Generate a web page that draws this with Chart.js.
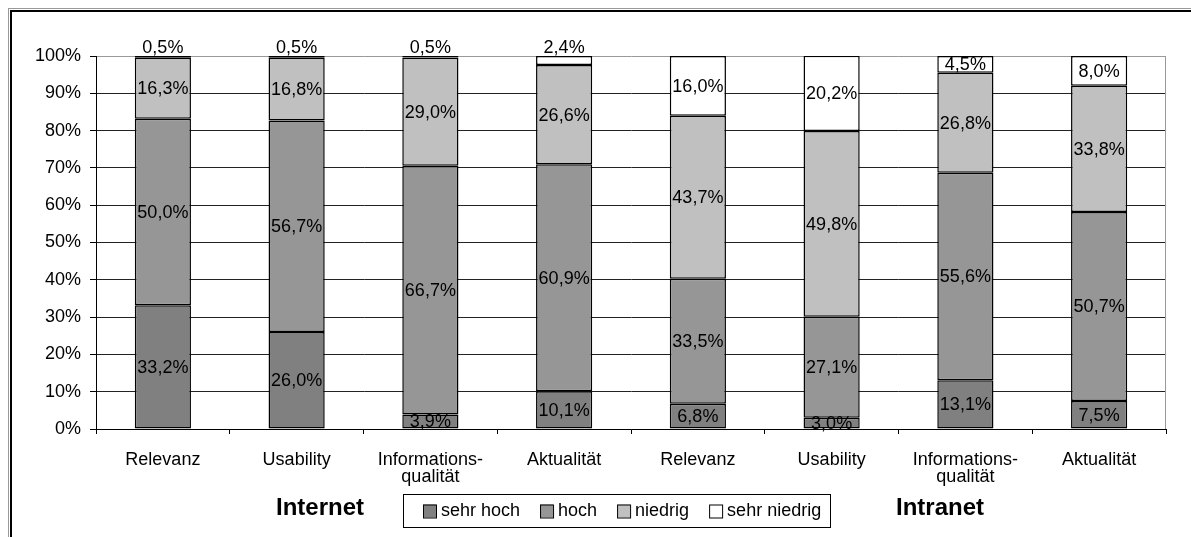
<!DOCTYPE html>
<html>
<head>
<meta charset="utf-8">
<script src="https://cdn.jsdelivr.net/npm/chart.js@4.4.1/dist/chart.umd.min.js"></script>
<style>
  html, body { margin: 0; padding: 0; background: #fff; }
</style>
</head>
<body>
<canvas id="barChart" width="1191" height="537"></canvas>
<script>
// categories (Internet: first four, Intranet: last four)
const categories = ['Relevanz', 'Usability', ['Informations-', 'qualität'], 'Aktualität',
                    'Relevanz', 'Usability', ['Informations-', 'qualität'], 'Aktualität'];
const seriesNames = ['sehr hoch', 'hoch', 'niedrig', 'sehr niedrig'];
const sehrHoch    = [33.2, 26.0, 3.9, 10.1, 6.8, 3.0, 13.1, 7.5];
const hoch        = [50.0, 56.7, 66.7, 60.9, 33.5, 27.1, 55.6, 50.7];
const niedrig     = [16.3, 16.8, 29.0, 26.6, 43.7, 49.8, 26.8, 33.8];
const sehrNiedrig = [0.5, 0.5, 0.5, 2.4, 16.0, 20.2, 4.5, 8.0];
const groupTitles = ['Internet', 'Intranet'];
const yMax = 100;
const yStep = 10;

const colors = ['#808080', '#969696', '#c0c0c0', '#ffffff'];
const FONT = 'Liberation Sans, Arial, sans-serif';

const barData = {
  labels: categories,
  datasets: [sehrHoch, hoch, niedrig, sehrNiedrig].map((d, i) => ({
    label: seriesNames[i],
    data: d,
    backgroundColor: colors[i],
    borderColor: '#000',
    borderWidth: 1.5,
    borderSkipped: false,
    barPercentage: 0.42,
    categoryPercentage: 1
  }))
};

const fmt = v => v.toFixed(1).replace('.', ',') + '%';

// frame, plot border, value labels, legend, group titles
const extras = {
  id: 'extras',
  beforeDraw(chart) {
    const ctx = chart.ctx;
    ctx.save();
    ctx.fillStyle = '#fff';
    ctx.fillRect(0, 0, chart.width, chart.height);
    ctx.fillStyle = '#999';
    ctx.fillRect(8, 8, chart.width, 1);
    ctx.fillRect(8, 8, 1, chart.height);
    ctx.fillStyle = '#000';
    ctx.fillRect(10, 10, chart.width, 2);
    ctx.fillRect(10, 10, 2, chart.height);
    ctx.restore();
  },
  afterDatasetsDraw(chart) {
    const ctx = chart.ctx;
    const a = chart.chartArea;
    ctx.save();
    ctx.strokeStyle = '#999';
    ctx.lineWidth = 1;
    ctx.beginPath();
    ctx.moveTo(a.right - 0.5, a.top);
    ctx.lineTo(a.right - 0.5, a.bottom);
    ctx.stroke();

    ctx.font = '18px ' + FONT;
    ctx.fillStyle = '#000';
    ctx.textAlign = 'center';
    ctx.textBaseline = 'middle';
    chart.data.datasets.forEach((ds, di) => {
      chart.getDatasetMeta(di).data.forEach((bar, i) => {
        const v = ds.data[i];
        const top = Math.min(bar.y, bar.base);
        const bot = Math.max(bar.y, bar.base);
        const y = (v < 3 && di === 3) ? top - 9 : (top + bot) / 2;
        ctx.fillText(fmt(v), bar.x, y + 1);
      });
    });

    // legend
    const bx = 403, by = 494, bw = 427, bh = 33;
    ctx.strokeStyle = '#000';
    ctx.strokeRect(bx + 0.5, by + 0.5, bw, bh);
    ctx.textAlign = 'left';
    let x = 423;
    const cy = by + bh / 2 + 1;
    chart.data.datasets.forEach(ds => {
      ctx.fillStyle = ds.backgroundColor;
      ctx.fillRect(x, cy - 7, 13, 13);
      ctx.strokeRect(x + 0.5, cy - 6.5, 13, 13);
      ctx.fillStyle = '#000';
      ctx.fillText(ds.label, x + 18, cy);
      x += 18 + ctx.measureText(ds.label).width + 20;
    });

    // group titles
    ctx.font = 'bold 24px ' + FONT;
    ctx.textAlign = 'center';
    ctx.fillText(groupTitles[0], 320, 508);
    ctx.fillText(groupTitles[1], 940, 508);
    ctx.restore();
  }
};

const barConfig = {
  type: 'bar',
  data: barData,
  options: {
    responsive: false,
    animation: false,
    layout: { padding: { left: 0, top: 56, right: 25, bottom: 0 } },
    plugins: {
      legend: { display: false },
      tooltip: { enabled: false }
    },
    scales: {
      x: {
        stacked: true,
        afterFit: s => { s.height = 108; },
        grid: {
          offset: true,
          drawOnChartArea: false,
          tickLength: 5,
          tickColor: '#000'
        },
        border: { color: '#000' },
        ticks: {
          color: '#000',
          maxRotation: 0,
          autoSkip: false,
          padding: 17,
          font: { family: FONT, size: 18, lineHeight: 0.95 }
        }
      },
      y: {
        stacked: true,
        min: 0,
        max: yMax,
        afterFit: s => { s.width = 96; },
        grid: {
          color: c => (c.tick && c.tick.value === yMax) ? '#999' : '#222',
          tickColor: '#000',
          tickLength: 6
        },
        border: { color: '#000' },
        ticks: {
          stepSize: yStep,
          color: '#000',
          padding: 9,
          font: { family: FONT, size: 18 },
          callback: v => v + '%'
        }
      }
    }
  },
  plugins: [extras]
};

const barChart = new Chart(document.getElementById('barChart'), barConfig);
</script>
</body>
</html>
